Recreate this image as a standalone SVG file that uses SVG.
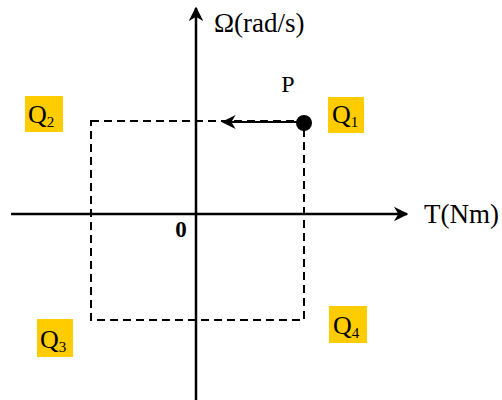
<svg xmlns="http://www.w3.org/2000/svg" width="502" height="400" viewBox="0 0 502 400">
<style>
.ax{stroke:#000;stroke-width:2.5;fill:none}
.dash{stroke:#000;stroke-width:2;fill:none;stroke-dasharray:8,5}
.t{font-family:"Liberation Serif","Times New Roman",serif;fill:#000}
.qb{fill:#FFCC00}
.q{font-size:26px}
.sub{font-size:15px}
</style>
<defs>
<marker id="ah" viewBox="0 0 10 10" refX="9" refY="5" markerWidth="5.8" markerHeight="5.8" orient="auto" markerUnits="strokeWidth">
<path d="M0,0 L10,5 L0,10 L3,5 Z" fill="#000"/>
</marker>
<marker id="ah2" viewBox="0 0 10 10" refX="9" refY="5" markerWidth="7" markerHeight="7" orient="auto" markerUnits="strokeWidth">
<path d="M0,0 L10,5 L0,10 L3,5 Z" fill="#000"/>
</marker>
</defs>
<g id="connectors">
<line class="ax" x1="196" y1="400" x2="196" y2="8" marker-end="url(#ah)"/>
<line class="ax" x1="11" y1="214" x2="407" y2="214" marker-end="url(#ah)"/>
<rect class="dash" x="91" y="121" width="213" height="199"/>
<line x1="304" y1="122" x2="223" y2="122" stroke="#000" stroke-width="2" marker-end="url(#ah2)"/>
</g>
<g id="origin"><text class="t" x="181" y="237" font-size="23" font-weight="bold" text-anchor="middle">0</text></g>
<g id="omega-label"><text class="t" x="214" y="32" font-size="27">Ω(rad/s)</text></g>
<g id="torque-label"><text class="t" x="424" y="223" font-size="27">T(Nm)</text></g>
<g id="P"><circle cx="304" cy="123" r="8" fill="#000"/><text class="t" x="288" y="92" font-size="24" text-anchor="middle">P</text></g>
<g id="Q1"><rect class="qb" x="328" y="97" width="36" height="36"/><text class="t q" x="332" y="123">Q<tspan class="sub" dy="4">1</tspan></text></g>
<g id="Q2"><rect class="qb" x="25" y="96" width="38" height="36"/><text class="t q" x="28" y="123">Q<tspan class="sub" dy="4">2</tspan></text></g>
<g id="Q3"><rect class="qb" x="37" y="319" width="36" height="38"/><text class="t q" x="40" y="348">Q<tspan class="sub" dy="4">3</tspan></text></g>
<g id="Q4"><rect class="qb" x="329" y="306" width="38" height="37"/><text class="t q" x="333" y="334">Q<tspan class="sub" dy="4">4</tspan></text></g>
</svg>
